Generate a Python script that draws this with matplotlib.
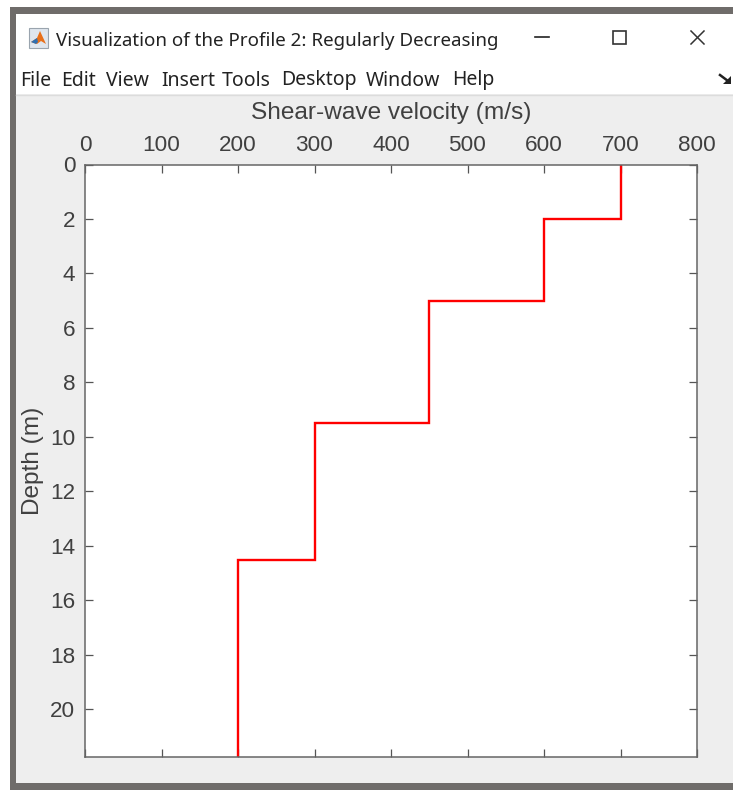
import matplotlib
matplotlib.use('Agg')
import matplotlib.pyplot as plt
from matplotlib.patches import Rectangle, Polygon

plt.rcParams['font.family'] = ['Liberation Sans', 'DejaVu Sans']

# layer velocities and the depth where each layer ends
velocity = [700, 600, 450, 300, 200]
depth_top = [0, 2, 5, 9.5, 14.5]
depth_bottom = [2, 5, 9.5, 14.5, 21.75]

x_ticks = [0, 100, 200, 300, 400, 500, 600, 700, 800]
y_ticks = [0, 2, 4, 6, 8, 10, 12, 14, 16, 18, 20]
menu_items = ['File', 'Edit', 'View', 'Insert', 'Tools', 'Desktop', 'Window', 'Help']
menu_x = [20, 61, 106, 161, 222, 281, 366, 452]

W, H = 733, 792
fig = plt.figure(figsize=(W / 100, H / 100), dpi=100, facecolor='white')

# window chrome, drawn in pixel coords
bg = fig.add_axes([0, 0, 1, 1])
bg.set_xlim(0, W)
bg.set_ylim(H, 0)
bg.axis('off')
bg.add_patch(Rectangle((10, 7), W - 10, 783, fc='#6f6c6a', ec='none'))
bg.add_patch(Rectangle((16, 14), W - 16, 769, fc='#eeeeee', ec='none'))
bg.add_patch(Rectangle((16, 14), W - 16, 80, fc='white', ec='none'))
bg.plot([16, W], [94.5, 94.5], color='#dcdcdc', lw=1)

# matlab icon
bg.add_patch(Rectangle((29, 28), 19, 20, fc='#dfe6ee', ec='#9aa4ae', lw=0.8))
bg.add_patch(Polygon([[31, 42], [37, 38], [40, 31], [46, 44], [41, 41], [37, 44]], fc='#e8701a', ec='none'))
bg.add_patch(Polygon([[31, 42], [37, 38], [38, 42], [36, 44]], fc='#2f6fb0', ec='none'))

bg.text(56, 46, 'Visualization of the Profile 2: Regularly Decreasing', fontsize=13.5,
        family=['Noto Sans', 'DejaVu Sans'], color='#222222', va='baseline', ha='left')
for name, x in zip(menu_items, menu_x):
    bg.text(x, 85.5, name, fontsize=14, family=['Noto Sans', 'DejaVu Sans'], color='#222222', va='baseline', ha='left')

# minimise / maximise / close
bg.plot([535, 549], [37, 37], color='#222222', lw=1.2)
bg.add_patch(Rectangle((613, 31), 13, 13, fc='none', ec='#333333', lw=1.2))
bg.plot([691, 704], [31, 44], color='#333333', lw=1.1)
bg.plot([691, 704], [44, 31], color='#333333', lw=1.1)
# toolbar overflow arrow
bg.plot([720, 728], [75, 81], color='#222222', lw=1.8)
bg.add_patch(Polygon([[731, 76], [731, 84], [723, 84]], fc='#222222', ec='none'))

# main axes
left, right, top, bottom = 85, 697, 164.5, 757
ax = fig.add_axes([left / W, 1 - bottom / H, (right - left) / W, (bottom - top) / H])
ax.set_facecolor('white')

xs = []
ys = []
for v, d0, d1 in zip(velocity, depth_top, depth_bottom):
    xs += [v, v]
    ys += [d0, d1]
ax.plot(xs, ys, color='#ff0000', lw=1.7, solid_joinstyle='miter', clip_on=True)

ax.set_xlim(0, 800)
ax.set_ylim(21.75, 0)
ax.set_xticks(x_ticks)
ax.set_yticks(y_ticks)
ax.xaxis.set_label_position('top')
ax.xaxis.tick_top()
ax.tick_params(axis='both', direction='in', length=6, width=0.9, color='#555555',
               labelcolor='#404040', labelsize=16.2, top=True, bottom=True, left=True, right=True,
               labeltop=True, labelbottom=False)
ax.tick_params(axis='x', pad=6)
ax.tick_params(axis='y', pad=7)
ax.set_xlabel('Shear-wave velocity (m/s)', fontsize=17.6, color='#404040', labelpad=11.5)
ax.set_ylabel('Depth (m)', fontsize=17.6, color='#404040', labelpad=4)
for s in ax.spines.values():
    s.set_color('#666666')
    s.set_linewidth(1.1)

fig.savefig('out.png', dpi=100, facecolor='white')
